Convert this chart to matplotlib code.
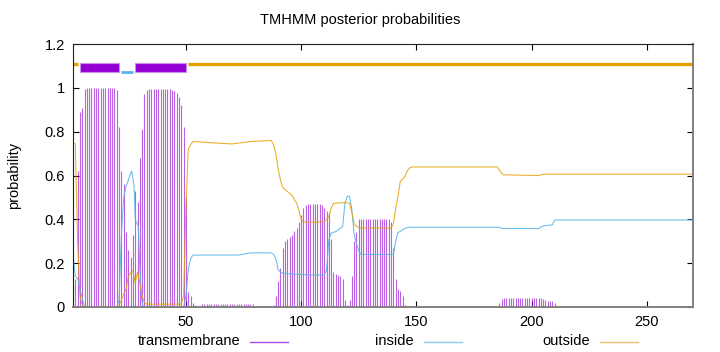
import matplotlib
matplotlib.use('Agg')
import matplotlib.pyplot as plt
from matplotlib.lines import Line2D
from matplotlib.patches import Rectangle

plt.rcParams['font.family'] = ['Liberation Sans', 'DejaVu Sans']

# ---- data -------------------------------------------------------------
residues = list(range(1, 271))

# posterior probability of transmembrane state, per residue (1..270)
tm_prob = [
    0.10, 0.13, 0.62, 0.89, 0.91, 0.995, 1.0, 1.0, 1.0, 1.0,
    1.0, 1.0, 1.0, 1.0, 1.0, 1.0, 1.0, 1.0, 1.0, 0.99,
    0.82, 0.62, 0.56, 0.34, 0.26, 0.23, 0.33, 0.53, 0.48, 0.68,
    0.81, 0.97, 0.99, 0.995, 0.995, 0.995, 0.995, 0.995, 0.995, 0.995,
    0.995, 0.995, 0.995, 0.99, 0.985, 0.975, 0.96, 0.92, 0.82, 0.50,
    0.07, 0.05, 0.02, 0.01, 0.005, 0.005, 0.012, 0.012, 0.012, 0.012,
    0.012, 0.012, 0.012, 0.012, 0.012, 0.012, 0.012, 0.012, 0.012, 0.012,
    0.012, 0.012, 0.012, 0.012, 0.012, 0.012, 0.012, 0.012, 0.012, 0.003,
    0.003, 0.003, 0.003, 0.003, 0.003, 0.003, 0.005, 0.01, 0.05, 0.12,
    0.18, 0.27, 0.30, 0.31, 0.32, 0.33, 0.345, 0.36, 0.39, 0.42,
    0.45, 0.465, 0.47, 0.47, 0.47, 0.47, 0.47, 0.47, 0.465, 0.45,
    0.44, 0.43, 0.31, 0.16, 0.15, 0.145, 0.14, 0.13, 0.03, 0.01,
    0.03, 0.14, 0.30, 0.34, 0.40, 0.40, 0.40, 0.40, 0.40, 0.40,
    0.40, 0.40, 0.40, 0.40, 0.40, 0.40, 0.40, 0.40, 0.39, 0.27,
    0.13, 0.08, 0.075, 0.05, 0.01, 0.005, 0.002, 0.001, 0.001, 0.001,
    0.0, 0.0, 0.0, 0.0, 0.0, 0.0, 0.0, 0.0, 0.0, 0.0,
    0.0, 0.0, 0.0, 0.0, 0.0, 0.0, 0.0, 0.0, 0.0, 0.0,
    0.0, 0.0, 0.0, 0.0, 0.0, 0.0, 0.0, 0.0, 0.0, 0.002,
    0.002, 0.002, 0.002, 0.003, 0.005, 0.02, 0.038, 0.04, 0.04, 0.04,
    0.04, 0.04, 0.04, 0.04, 0.04, 0.04, 0.04, 0.04, 0.04, 0.04,
    0.04, 0.04, 0.04, 0.04, 0.036, 0.03, 0.028, 0.028, 0.028, 0.02,
    0.005, 0.003, 0.003, 0.003, 0.003, 0.003, 0.003, 0.003, 0.003, 0.003,
    0.003, 0.003, 0.003, 0.003, 0.003, 0.003, 0.003, 0.003, 0.003, 0.003,
    0.0, 0.0, 0.0, 0.0, 0.0, 0.0, 0.0, 0.0, 0.0, 0.0,
    0.0, 0.0, 0.0, 0.0, 0.0, 0.0, 0.0, 0.0, 0.0, 0.0,
    0.0, 0.0, 0.0, 0.0, 0.0, 0.0, 0.0, 0.0, 0.0, 0.0,
    0.0, 0.0, 0.0, 0.0, 0.0, 0.0, 0.0, 0.0, 0.0, 0.0,
]

# inside probability (breakpoints)
inside_pos = [1, 2, 3, 4, 5, 6, 20, 21, 22, 23, 24, 25, 26, 26.5, 27.5, 28, 29.3,
              30, 30.7, 31.4, 49, 50, 51, 52, 53, 73, 78, 87, 88, 89, 90, 91, 92,
              103, 110, 111, 112, 113, 115, 118, 119, 120, 121, 122, 123, 124, 125,
              126, 140, 141, 142, 143, 145, 147, 186, 187, 203, 205, 209, 210, 270]
inside_prob = [0.245, 0.14, 0.13, 0.085, 0.04, 0.0, 0.0, 0.03, 0.33, 0.50, 0.55, 0.58,
               0.61, 0.62, 0.55, 0.40, 0.37, 0.18, 0.04, 0.0, 0.0, 0.05, 0.17, 0.22,
               0.237, 0.237, 0.247, 0.247, 0.24, 0.22, 0.17, 0.16, 0.154, 0.146, 0.146,
               0.169, 0.306, 0.337, 0.344, 0.367, 0.474, 0.505, 0.505, 0.443, 0.33,
               0.29, 0.255, 0.24, 0.24, 0.30, 0.34, 0.345, 0.359, 0.364, 0.364, 0.358,
               0.358, 0.37, 0.375, 0.397, 0.397]

# outside probability (breakpoints)
outside_pos = [1, 2, 3, 4, 5, 6, 20, 21, 22, 23, 24, 25, 26, 27, 28, 29, 30, 31, 32,
               33, 48, 49, 50, 51, 52, 53, 60, 70, 78, 87, 88, 89, 90, 91, 92, 94, 96,
               97, 98, 99, 100, 101, 103, 110, 112, 113, 114, 119, 121, 122, 123, 124,
               126, 139, 140, 141, 142, 143, 145, 146, 147, 148, 185, 186, 187, 188,
               203, 205, 270]
outside_prob = [0.747, 0.745, 0.30, 0.05, 0.01, 0.0, 0.0, 0.01, 0.03, 0.06, 0.08, 0.14,
                0.155, 0.165, 0.11, 0.16, 0.11, 0.05, 0.02, 0.013, 0.013, 0.05, 0.45,
                0.72, 0.74, 0.755, 0.75, 0.744, 0.755, 0.76, 0.74, 0.70, 0.63, 0.58,
                0.545, 0.527, 0.51, 0.49, 0.475, 0.44, 0.40, 0.389, 0.386, 0.389,
                0.412, 0.45, 0.473, 0.477, 0.473, 0.43, 0.38, 0.367, 0.36, 0.36, 0.38,
                0.45, 0.504, 0.573, 0.595, 0.62, 0.634, 0.639, 0.639, 0.625, 0.61,
                0.603, 0.60, 0.606, 0.606]

# predicted topology segments
topo_start = [1, 4, 22, 28, 51]
topo_end = [3, 21, 27, 50, 270]
topo_kind = ['outside', 'TMhelix', 'inside', 'TMhelix', 'outside']

title = 'TMHMM posterior probabilities'
yticks = [0, 0.2, 0.4, 0.6, 0.8, 1.0, 1.2]
ytick_labels = ['0', '0.2', '0.4', '0.6', '0.8', '1', '1.2']
xticks = [50, 100, 150, 200, 250]

# ---- style ------------------------------------------------------------
c_tm = '#9400d3'
c_in = '#56b4e9'
c_out = '#e69f00'

fig = plt.figure(figsize=(7.2, 3.52), dpi=100)
ax = fig.add_axes([73 / 720, 1 - 307 / 352, (693 - 73) / 720, (307 - 44) / 352])

ax.vlines(residues, 0, tm_prob, color=c_tm, linewidth=0.8, alpha=0.62)
ax.plot(inside_pos, inside_prob, color=c_in, linewidth=0.75, alpha=0.9)
ax.plot(outside_pos, outside_prob, color=c_out, linewidth=0.75, alpha=0.85)

for s, e, k in zip(topo_start, topo_end, topo_kind):
    if k == 'TMhelix':
        ax.add_patch(Rectangle((s, 1.07), e - s, 0.042, facecolor=c_tm,
                               edgecolor='#c890ec', linewidth=0.8))
    elif k == 'inside':
        ax.plot([s, e], [1.07, 1.07], color=c_in, linewidth=2.0,
                solid_capstyle='butt')
    else:
        ax.plot([s, e], [1.111, 1.111], color=c_out, linewidth=2.4,
                solid_capstyle='butt')

ax.set_xlim(1, 270)
ax.set_ylim(0, 1.2)
ax.set_yticks(yticks)
ax.set_yticklabels(ytick_labels)
ax.set_xticks(xticks)
ax.tick_params(direction='in', length=4, width=0.8, top=True, right=True,
               labelsize=10.5, colors='black', pad=6)
for side in ['left', 'top']:
    ax.spines[side].set_color('#202020')
    ax.spines[side].set_linewidth(0.8)
for side in ['bottom', 'right']:
    ax.spines[side].set_color('#808080')
    ax.spines[side].set_linewidth(1.4)

fig.text(0.5, 1 - 20 / 352, title, ha='center', va='center', fontsize=10.5)
fig.text(14 / 720, 1 - 175 / 352, 'probability', ha='center', va='center',
         rotation=90, fontsize=10.5)

# legend row at the bottom
leg_y = 1 - 341.5 / 352
legend_items = [('transmembrane', '#a850dc', 240), ('inside', '#8cc8ee', 414),
                ('outside', '#ecc070', 590)]
for label, col, xr in legend_items:
    fig.text(xr / 720, 1 - 341 / 352, label, ha='right', va='center', fontsize=10.5)
    fig.add_artist(Line2D([(xr + 10) / 720, (xr + 48) / 720], [leg_y, leg_y],
                          color=col, linewidth=1.0,
                          transform=fig.transFigure))

fig.savefig('out.png', dpi=100)
